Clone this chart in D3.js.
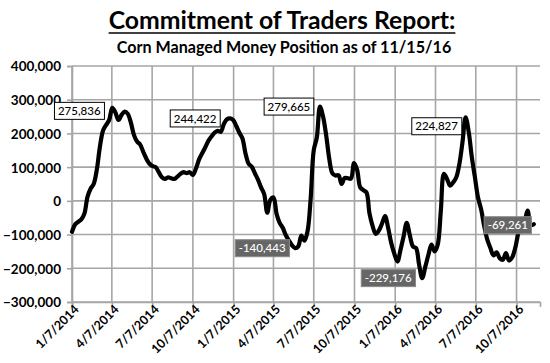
<!DOCTYPE html>
<html>
<head>
<meta charset="utf-8">
<script src="https://cdn.jsdelivr.net/npm/d3@7"></script>
<style>
  html, body { margin: 0; padding: 0; background: #fff; }
  svg { display: block; }
</style>
</head>
<body>
<svg id="chart" width="550" height="363"></svg>
<script>
// ---------------- DATA ----------------
const titleText = "Commitment of Traders Report:";
const subtitleText = "Corn Managed Money Position as of 11/15/16";
const firstWeek = "2014-01-07";   // weekly reports (Tuesdays)
const positions = [
  -92000, -70000, -62000, -55000, -38000, 12000, 36000, 50000, 92000, 160000,
  208000, 225000, 240000, 275836, 262000, 240000, 255000, 265000, 258000, 232000,
  195000, 176000, 167000, 145000, 125000, 110000, 103000, 100000, 85000, 70000,
  65000, 70000, 67000, 65000, 72000, 80000, 85000, 82000, 85000, 77000,
  96000, 123000, 141000, 159000, 178000, 191000, 202000, 208000, 205000, 228000,
  242000, 244422, 240000, 222000, 202000, 185000, 140000, 110000, 101000, 82000,
  63000, 40000, 20000, -35000, 3000, 10000, -38000, -65000, -80000, -102000,
  -118000, -132000, -140443, -135000, -103000, -118000, -90000, 6000, 150000, 188000,
  279665, 250000, 195000, 125000, 82000, 75000, 76000, 50000, 68000, 67000,
  66000, 112000, 92000, 40000, 32000, 25000, -38000, -75000, -98000, -88000,
  -68000, -45000, -80000, -125000, -157000, -180000, -145000, -105000, -65000, -102000,
  -135000, -140000, -190000, -229176, -195000, -160000, -130000, -150000, -130000, -30000,
  80000, 65000, 45000, 55000, 70000, 110000, 175000, 248000, 205000, 130000,
  70000, 10000, -25000, -75000, -115000, -140000, -162000, -153000, -170000, -175000,
  -155000, -177000, -168000, -140000, -95000, -65000, -58000, -29000, -72000, -69261
];
const xTickLabels = ["1/7/2014","4/7/2014","7/7/2014","10/7/2014","1/7/2015","4/7/2015",
                     "7/7/2015","10/7/2015","1/7/2016","4/7/2016","7/7/2016","10/7/2016"];
const yTicks = [400000, 300000, 200000, 100000, 0, -100000, -200000, -300000];
const labelWeeks = [13, 51, 80, 72, 113, 127, 149];
const labelTexts = ["275,836", "244,422", "279,665", "-140,443", "-229,176", "224,827", "-69,261"];
const labelDark  = [false, false, false, true, true, false, true];

// ---------------- LAYOUT / STYLE ----------------
const labelOffsets = [[-33, 3], [-35, 0], [-31, 0], [-33, 0], [-34, 0], [-29, 9], [-26, 1]];
const svg = d3.select("#chart");
const parse = d3.timeParse("%m/%d/%Y");
const start = d3.timeParse("%Y-%m-%d")(firstWeek);
const data = positions.map((v, i) => ({ date: d3.timeDay.offset(start, 7 * i), value: v }));
const tickDates = xTickLabels.map(s => parse(s));
const lastDate = data[data.length - 1].date;

const x = d3.scaleTime()
  .domain([start, d3.timeDay.offset(lastDate, 14)])
  .range([72, 540]);
const y = d3.scaleLinear().domain([-300000, 400000]).range([302, 66]);

const gridColor = "#a6a6a6";
const font = "Lato, 'Open Sans', sans-serif";

// gridlines
const g = svg.append("g");
g.selectAll("line.h").data(yTicks).join("line")
  .attr("x1", x.range()[0]).attr("x2", x.range()[1])
  .attr("y1", d => y(d)).attr("y2", d => y(d))
  .attr("stroke", gridColor).attr("stroke-width", 1.6);
g.selectAll("line.v").data(tickDates).join("line")
  .attr("x1", d => x(d)).attr("x2", d => x(d))
  .attr("y1", y.range()[1]).attr("y2", y.range()[0])
  .attr("stroke", gridColor).attr("stroke-width", 1.6);

// y axis
const yAxis = svg.append("g")
  .attr("transform", `translate(${x.range()[0]},0)`)
  .call(d3.axisLeft(y).tickValues(yTicks).tickSize(5).tickPadding(6)
        .tickFormat(d3.format(",")));
yAxis.select(".domain").attr("stroke", gridColor).attr("stroke-width", 1.6);
yAxis.selectAll(".tick line").attr("stroke", gridColor).attr("stroke-width", 1.6);
yAxis.selectAll("text")
  .attr("font-family", font).attr("font-weight", "bold").attr("font-size", 13.5)
  .attr("fill", "#000").attr("dy", "0.36em");

// x axis
const xAxis = svg.append("g")
  .attr("transform", `translate(0,${y.range()[0]})`)
  .call(d3.axisBottom(x).tickValues(tickDates).tickSize(5)
        .tickFormat((d, i) => xTickLabels[i]));
xAxis.select(".domain").attr("stroke", gridColor).attr("stroke-width", 1.6);
xAxis.selectAll(".tick line").attr("stroke", gridColor).attr("stroke-width", 1.6);
xAxis.selectAll("text")
  .attr("font-family", font).attr("font-weight", "bold").attr("font-size", 12.5)
  .attr("fill", "#000")
  .attr("text-anchor", "end")
  .attr("dy", null)
  .attr("transform", "translate(3,4) rotate(-45)")
  .attr("x", 0).attr("y", 6);

// line
const line = d3.line()
  .x(d => x(d.date)).y(d => y(d.value))
  .curve(d3.curveCatmullRom.alpha(0.5));
svg.append("path").datum(data)
  .attr("d", line)
  .attr("fill", "none").attr("stroke", "#000")
  .attr("stroke-width", 4.2)
  .attr("stroke-linejoin", "round").attr("stroke-linecap", "round");

// data labels
const lbl = svg.append("g");
labelWeeks.forEach((wk, k) => {
  const d = data[wk];
  const cx = x(d.date) + labelOffsets[k][0];
  const cy = y(d.value) + labelOffsets[k][1];
  const grp = lbl.append("g");
  const t = grp.append("text")
    .attr("x", cx).attr("y", cy).attr("dy", "0.36em")
    .attr("text-anchor", "middle")
    .attr("font-family", font).attr("font-size", 11.5).attr("font-weight", 500)
    .attr("fill", labelDark[k] ? "#fff" : "#000")
    .text(labelTexts[k]);
  const bb = t.node().getBBox();
  grp.insert("rect", "text")
    .attr("x", bb.x - 3.5).attr("y", cy - 8.5)
    .attr("width", bb.width + 7).attr("height", 17)
    .attr("fill", labelDark[k] ? "#666666" : "#fff")
    .attr("stroke", labelDark[k] ? "#8a8a8a" : "#000")
    .attr("stroke-width", 1);
});

// titles
const title = svg.append("text")
  .attr("x", 282).attr("y", 29).attr("text-anchor", "middle")
  .attr("font-family", font).attr("font-weight", "bold").attr("font-size", 22)
  .attr("fill", "#000").text(titleText);
const tw = title.node().getComputedTextLength();
title.attr("font-size", 22 * 347 / tw);
const tb = title.node().getBBox();
svg.append("line")
  .attr("x1", tb.x).attr("x2", tb.x + tb.width)
  .attr("y1", 33).attr("y2", 33)
  .attr("stroke", "#000").attr("stroke-width", 1.6);

const sub = svg.append("text")
  .attr("x", 284).attr("y", 53).attr("text-anchor", "middle")
  .attr("font-family", font).attr("font-weight", "bold").attr("font-size", 15)
  .attr("fill", "#000").text(subtitleText);
const sw = sub.node().getComputedTextLength();
sub.attr("font-size", 15 * 335 / sw);
</script>
</body>
</html>
